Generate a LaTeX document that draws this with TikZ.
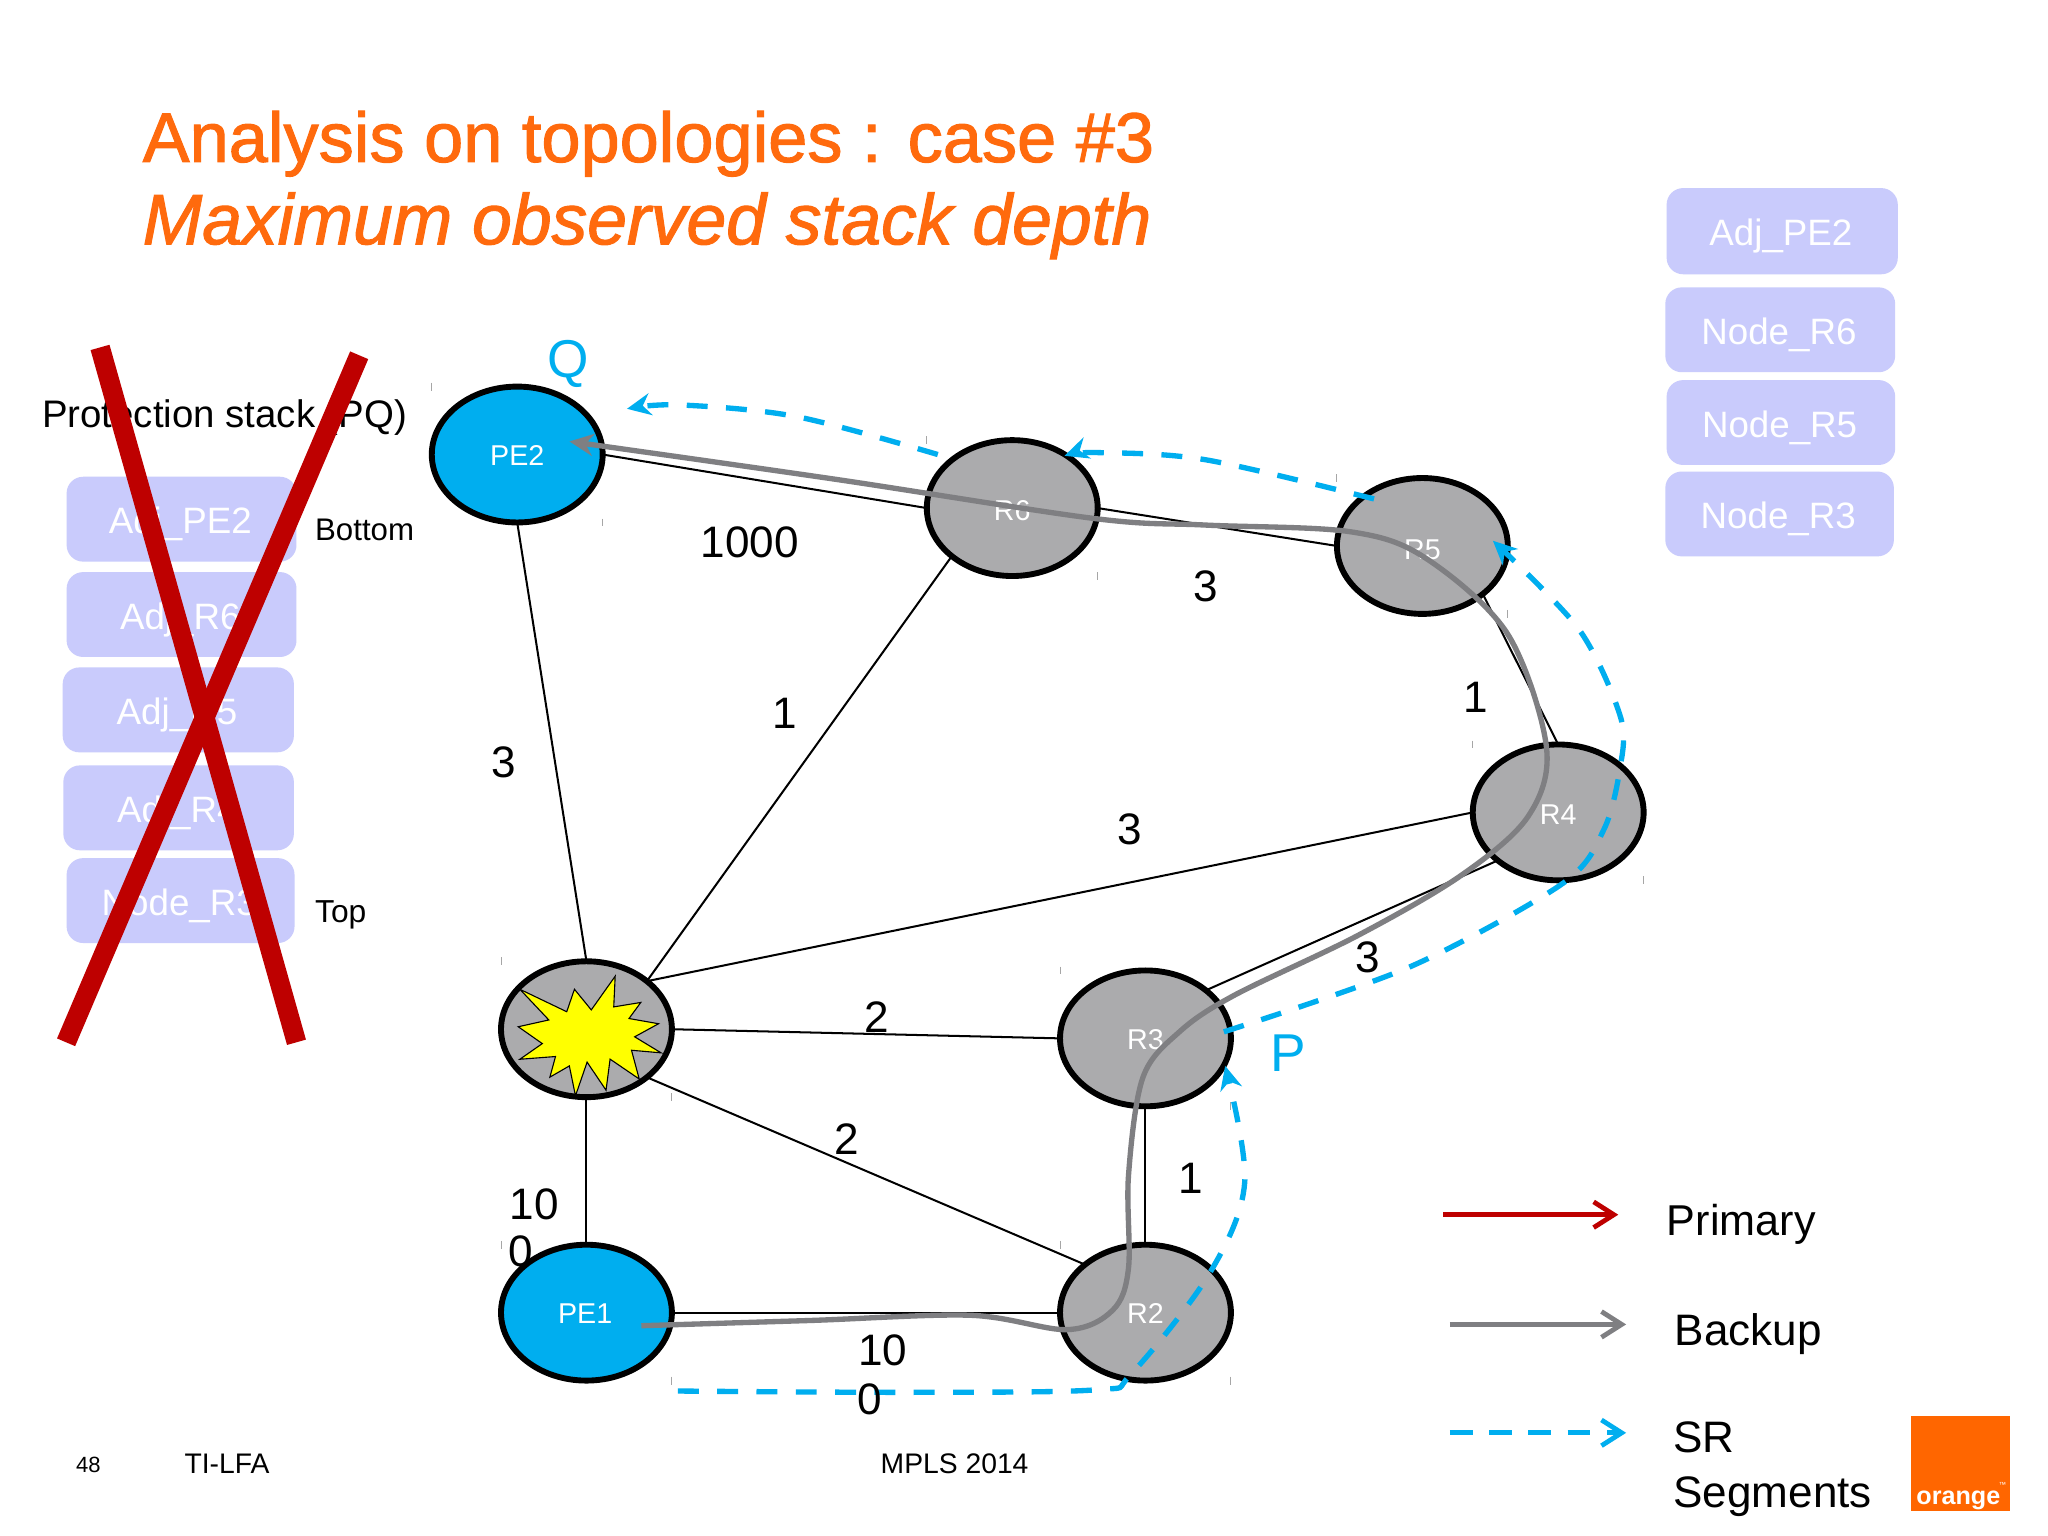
\documentclass[tikz,border=0pt]{standalone}
\usepackage{fontspec}
\setmainfont{Liberation Sans}
\newfontfamily\titlefont[FakeBold=1.5,ItalicFeatures={FakeBold=1.5}]{Liberation Sans}
\usetikzlibrary{shapes.geometric,arrows.meta}
\definecolor{titleor}{HTML}{FF6A0D}
\definecolor{stackbox}{HTML}{C9CBFC}
\definecolor{crossred}{HTML}{BE0000}
\definecolor{srcyan}{HTML}{00AEEF}
\definecolor{routergray}{HTML}{ABABAD}
\definecolor{backupgray}{HTML}{7F7F82}
\definecolor{logoor}{HTML}{FF6600}
\definecolor{burst}{HTML}{FFFF00}
\newcommand{\fsz}[1]{\fontsize{#1pt}{#1pt}\selectfont}
\tikzset{
 x=0.025cm,y=-0.025cm,
 router/.style={draw=black,line width=3.2pt,ellipse,minimum width=3.27cm,minimum height=2.6cm,inner sep=0pt,outer sep=0pt,text=white,font=\fsz{15.6}},
 grayrouter/.style={router,fill=routergray},
 bluerouter/.style={router,fill=srcyan},
 link/.style={draw=black,line width=1.1pt},
 backup/.style={draw=backupgray,line width=2.9pt},
 srpath/.style={draw=srcyan,line width=2.9pt,dash pattern=on 11.4pt off 10pt},
 solidtip/.style={-{Stealth[length=13pt,width=12pt]}},
 stackitem/.style={fill=stackbox,rounded corners=9pt,text=white,font=\fsz{20},inner sep=0pt},
 weight/.style={font=\fsz{24},text=black,inner sep=0pt},
 plain/.style={anchor=base west,inner sep=0pt,text=black},
 legendtip/.style={-{Straight Barb[length=11pt,width=14pt,line width=2.6pt]}},
 tick/.style={draw=gray!70,line width=0.5pt},
 xline/.style={draw=crossred,line width=10.7pt},
}
\begin{document}
\begin{tikzpicture}
\useasboundingbox (0,0) rectangle (1568,1176);
\fill[white] (0,0) rectangle (1568,1176);
% title
\node[plain,font=\fsz{38.3}\titlefont,text=titleor] (title1) at (109,124) {Analysis on topologies : case \#3};
\node[plain,font=\fsz{38.9}\titlefont\itshape,text=titleor] (title2) at (109,187) {Maximum observed stack depth};
% right stack
\foreach \nm/\xa/\ya/\xb/\yb/\tx in {ra/1276/144/1453/210/Adj\_PE2,rb/1275/220/1451/285/Node\_R6,rc/1276/291/1451/356/Node\_R5,rd/1275/361/1450/426/Node\_R3,
 la/51/365/227/430/Adj\_PE2,lb/51/438/227/503/Adj\_R6,lc/48/511/225/576/Adj\_R5,ld/48.5/586/225/651/Adj\_R4,le/51/657/225.5/722/Node\_R3}{
 \fill[stackitem] (\xa,\ya) rectangle (\xb,\yb);
 \node[font=\fsz{20},text=white,inner sep=0pt] (\nm) at ({(\xa+\xb)/2-1},{(\ya+\yb)/2+4}) {\tx};
}
% left labels
\node[plain,font=\fsz{20.9}] (pstack) at (32,327) {Protection stack (PQ)};
\node[plain,font=\fsz{17}] (bot) at (241,414) {Bottom};
\node[plain,font=\fsz{17.3}] (top) at (241,706) {Top};
% red cross
\coordinate (xa1) at (76.6,266); \coordinate (xa2) at (227,798);
\coordinate (xb1) at (275,272); \coordinate (xb2) at (50.6,798);
\draw[xline] (xa1) -- (xa2);
\draw[xline] (xb1) -- (xb2);
% weight hidden by PE1
\node[weight,anchor=center] (w0a) at (399,958) {0};
% nodes
\path node[bluerouter] (pe2) at (396,348) {}
 node[grayrouter] (r6) at (775,389) {}
 node[grayrouter] (r5) at (1089,418) {}
 node[grayrouter] (r4) at (1193,622) {}
 node[grayrouter] (r3) at (877,795) {}
 node[grayrouter] (r2) at (877,1005) {}
 node[bluerouter] (pe1) at (449,1005) {}
 node[grayrouter] (fail) at (449,788) {};
% links
\draw[link] (pe2.east) -- (r6.west);
\draw[link] (r6.east) -- (r5.west);
\draw[link] (r5.south east) -- (r4.north);
\draw[link] (pe2.south) -- (fail.north);
\draw[link] (fail.north east) -- (r6.south west);
\draw[link] (fail.north east) -- (r4.west);
\draw[link] (fail.east) -- (r3.west);
\draw[link] (fail.south east) -- (r2.north west);
\draw[link] (fail.south) -- (pe1.north);
\draw[link] (r3.south) -- (r2.north);
\draw[link] (r3.north east) -- (r4.south west);
\draw[link] (pe1.east) -- (r2.west);
% selection ticks
\foreach \n in {pe2,r6,r5,r4,r3,r2,pe1,fail}{
 \draw[tick] (\n.west |- \n.north) ++(0,-3) -- ++(0,6);
 \draw[tick] (\n.east |- \n.south) ++(0,-3) -- ++(0,6);
}
% burst
\draw[fill=burst,draw=black,line width=0.6pt] (398.0,757.4) -- (433.9,774.6) -- (439.8,757.4) -- (452.7,773.2) -- (471.0,747.4) -- (469.9,770.9) -- (490.6,767.5) -- (481.6,779.8) -- (504.2,783.8) -- (485.9,793.8) -- (506.2,806.1) -- (483.5,804.1) -- (489.4,826.1) -- (467.1,810.9) -- (464.0,834.7) -- (449.5,813.2) -- (440.6,839.0) -- (435.9,816.1) -- (421.0,824.7) -- (425.3,808.9) -- (398.0,811.0) -- (415.2,799.0) -- (396.8,786.1) -- (420.2,780.9) -- cycle;
% node labels under the paths
\node[font=\fsz{15.6},text=white,inner sep=0pt] (lpe2) at (396,349) {PE2};
\node[font=\fsz{15.6},text=white,inner sep=0pt] (lr6) at (775,391) {R6};
\node[font=\fsz{15.6},text=white,inner sep=0pt] (lr5) at (1089,421) {R5};
\node[font=\fsz{15.6},text=white,inner sep=0pt] (lr4) at (1193,624) {R4};
\node[font=\fsz{15.6},text=white,inner sep=0pt] (lr3) at (877,796) {R3};
\node[font=\fsz{15.6},text=white,inner sep=0pt] (lr2) at (877,1006) {R2};
\node[font=\fsz{15.6},text=white,inner sep=0pt] (lpe1) at (448,1006) {PE1};
% backup path
\coordinate (bk0) at (491,1015);
\coordinate (bk1) at (436,338);
\draw[backup,solidtip] plot[smooth,tension=0.55] coordinates {(bk0) (620,1011) (743,1007) (817,1018) (852,1003) (864,971) (864,900) (875,825) (903,790) (945,762) (1040,716) (1119,670) (1170,625) (1184,572) (1154,485) (1091,427) (1033,407) (923,402) (838,397) (640,367) (bk1)};
% SR paths
\coordinate (sa0) at (519,1065); \coordinate (sa1) at (938,816);
\draw[srpath,solidtip] plot[smooth,tension=0.55] coordinates {(sa0) (700,1066) (840,1064) (866,1052) (926,975) (953,905) (sa1)};
\coordinate (sb0) at (937,790); \coordinate (sb1) at (1143,414);
\draw[srpath,solidtip] plot[smooth,tension=0.5] coordinates {(sb0) (1080,740) (1197,676) (1228,635) (1240,590) (1241,550) (1209,482) (sb1)};
\coordinate (sc0) at (1052,382); \coordinate (sc1) at (815,349);
\draw[srpath,solidtip] plot[smooth,tension=0.55] coordinates {(sc0) (923,352) (840,346.5) (sc1)};
\coordinate (sd0) at (718,348); \coordinate (sd1) at (480,313);
\draw[srpath,solidtip] plot[smooth,tension=0.55] coordinates {(sd0) (610,319) (520,310) (sd1)};
% PQ labels
\node[font=\fsz{29},text=srcyan,inner sep=0pt] (q) at (435,279) {Q};
\node[font=\fsz{29},text=srcyan,inner sep=0pt] (p) at (986,806) {P};
% weights
\node[weight] (w1) at (574,415) {1000};
\node[weight] (w2) at (923,449) {3};
\node[weight] (w3) at (1130,534) {1};
\node[weight] (w4) at (386,584) {3};
\node[weight] (w5) at (601,546) {1};
\node[weight] (w6) at (865,635) {3};
\node[weight] (w7) at (1047,733) {3};
\node[weight] (w8) at (671,779) {2};
\node[weight] (w9) at (648,872) {2};
\node[weight] (w10) at (912,902) {1};
\node[weight] (w11) at (409,922) {10};
\node[weight] (w12) at (676,1034) {10};
\node[weight] (w13) at (666,1071) {0};
% legend
\coordinate (lg1a) at (1105,930); \coordinate (lg1b) at (1239,930);
\coordinate (lg2a) at (1110,1014); \coordinate (lg2b) at (1245,1014);
\coordinate (lg3a) at (1110,1097); \coordinate (lg3b) at (1245,1097);
\draw[draw=crossred,line width=2.8pt,legendtip] (lg1a) -- (lg1b);
\draw[draw=backupgray,line width=2.8pt,legendtip] (lg2a) -- (lg2b);
\draw[draw=srcyan,line width=2.8pt,dash pattern=on 12.4pt off 9pt,legendtip] (lg3a) -- (lg3b);
\node[plain,font=\fsz{23.5}] (lgp) at (1276,946) {Primary};
\node[plain,font=\fsz{24}] (lgb) at (1282,1030) {Backup};
\node[plain,font=\fsz{24}] (lgs) at (1281,1112) {SR};
\node[plain,font=\fsz{24}] (lgt) at (1281,1154) {Segments};
% footer
\node[plain,font=\fsz{12}] (pg) at (58,1127) {48};
\node[plain,font=\fsz{15.4}] (ti) at (141,1128) {TI-LFA};
\node[plain,font=\fsz{15.4}] (mp) at (674,1128) {MPLS 2014};
% logo
\fill[logoor] (1463,1084) rectangle (1539,1157);
\node[plain,font=\fsz{13.7}\bfseries,text=white] (logo) at (1467,1152) {orange};
\node[plain,font=\fsz{4},text=white] (logotm) at (1530,1139) {™};
\end{tikzpicture}
\end{document}
